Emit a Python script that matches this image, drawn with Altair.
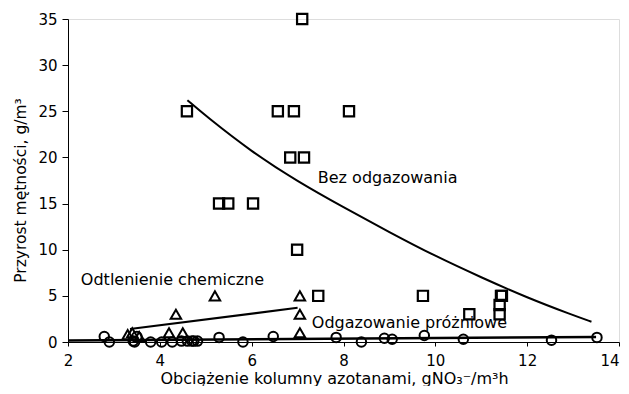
import altair as alt
import pandas as pd

# Bez odgazowania (squares)
sq_x = [7.1, 4.59, 6.57, 6.92, 8.12, 6.84, 7.14, 5.29, 5.49, 6.03, 6.99, 7.45, 9.73, 11.43, 11.45, 10.74, 11.40, 11.40]
sq_y = [35, 25, 25, 25, 25, 20, 20, 15, 15, 15, 10, 5, 5, 5, 5, 3, 4, 3]

# Odtlenienie chemiczne (triangles)
tr_x = [5.2, 7.05, 4.35, 7.05, 4.2, 4.5, 7.05, 3.3, 3.4, 3.55]
tr_y = [5, 5, 3, 3, 1, 1, 1, 0.8, 1.0, 0.6]

# Odgazowanie próżniowe (circles)
ci_x = [2.79, 2.9, 3.42, 3.45, 3.5, 3.8, 4.04, 4.27, 4.47, 4.6, 4.7, 4.74, 4.82, 5.29, 5.81,
        6.47, 7.84, 8.39, 8.89, 9.06, 9.76, 10.61, 12.53, 13.52]
ci_y = [0.6, 0.0, 0.1, 0.0, 0.6, 0.0, 0.0, 0.0, 0.1, 0.1, 0.1, 0.1, 0.1, 0.5, 0.0,
        0.6, 0.5, 0.0, 0.4, 0.3, 0.7, 0.3, 0.2, 0.5]

# Trend lines
bez_x = [4.6, 5.0, 6.0, 7.0, 8.0, 9.0, 10.0, 11.0, 12.0, 13.0, 13.4]
bez_y = [26.2, 24.5, 20.6, 17.4, 14.6, 11.9, 9.3, 7.0, 4.8, 2.9, 2.2]
chem_x = [3.35, 7.0]
chem_y = [1.4, 3.7]
vac_x = [2.0, 13.5]
vac_y = [0.15, 0.55]

# Labels
lab_text = ["Bez odgazowania", "Odtlenienie chemiczne", "Odgazowanie próżniowe"]
lab_x = [7.44, 2.28, 7.31]
lab_y = [17.2, 6.2, 1.52]

FONT = "DejaVu Sans"

xs = alt.Scale(domain=[2, 14], nice=False, zero=False)
ys = alt.Scale(domain=[0, 35], nice=False)

xax = alt.Axis(values=[2, 4, 6, 8, 10, 12, 14], title="Obciążenie kolumny azotanami, gNO₃⁻/m³h",
               grid=False, tickSize=4, labelPadding=7, labelFontSize=15, labelFont=FONT,
               labelAlign=alt.ExprRef(expr="datum.value == 14 ? 'right' : 'center'"),
               labelColor="black", domainColor="black", tickColor="black", labelFlush=False,
               titleFont=FONT, titleFontSize=16, titleFontWeight="normal", titleColor="black",
               titleBaseline="alphabetic", titleY=41, titleX=266)
yax = alt.Axis(values=[0, 5, 10, 15, 20, 25, 30, 35], title="Przyrost mętności, g/m³",
               grid=False, tickSize=6, labelPadding=5, labelFontSize=15, labelFont=FONT,
               labelColor="black", domainColor="black", tickColor="black", labelFlush=False,
               titleFont=FONT, titleFontSize=15.5, titleFontWeight="normal", titleColor="black",
               titleX=-48, titleY=171, titleBaseline="middle", titleAlign="center")

sq = pd.DataFrame({"x": sq_x, "y": sq_y})
tr = pd.DataFrame({"x": tr_x, "y": tr_y})
ci = pd.DataFrame({"x": ci_x, "y": ci_y})
bez = pd.DataFrame({"x": bez_x, "y": bez_y})
chem = pd.DataFrame({"x": chem_x, "y": chem_y})
vac = pd.DataFrame({"x": vac_x, "y": vac_y})
lab = pd.DataFrame({"t": lab_text, "x": lab_x, "y": lab_y})

enc = dict(x=alt.X("x:Q", scale=xs, axis=xax), y=alt.Y("y:Q", scale=ys, axis=yax))

l_bez = alt.Chart(bez).mark_line(color="black", strokeWidth=2, interpolate="basis").encode(**enc)
l_chem = alt.Chart(chem).mark_line(color="black", strokeWidth=2).encode(**enc)
l_vac = alt.Chart(vac).mark_line(color="black", strokeWidth=2.5).encode(**enc)
p_sq = alt.Chart(sq).mark_point(shape="square", size=105, filled=False, color="black", strokeWidth=2.2, opacity=1).encode(**enc)
p_tr = alt.Chart(tr).mark_point(shape="triangle-up", size=110, filled=False, color="black", strokeWidth=2, opacity=1).encode(**enc)
p_ci = alt.Chart(ci).mark_point(shape="circle", size=90, filled=False, color="black", strokeWidth=2, opacity=1).encode(**enc)
t_lab = alt.Chart(lab).mark_text(font=FONT, fontSize=16, align="left", baseline="alphabetic", color="black").encode(
    x=alt.X("x:Q", scale=xs), y=alt.Y("y:Q", scale=ys), text="t:N")

chart = alt.layer(l_bez, l_chem, l_vac, p_ci, p_tr, p_sq, t_lab).properties(
    width=551, height=323,
    autosize=alt.AutoSizeParams(type="none"),
    padding={"left": 60, "top": 11, "right": 2, "bottom": 44},
).configure_view(stroke="black", strokeWidth=1.5).configure(background="white")

chart.save("out.html", embed_options={"renderer": "svg", "actions": False})
